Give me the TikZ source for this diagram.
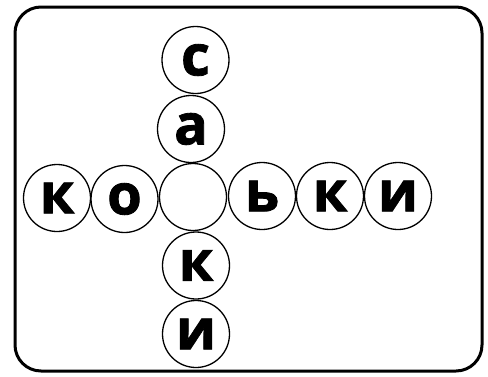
\documentclass[tikz,border=0pt]{standalone}
\usepackage{fontspec}
\setmainfont{Open Sans}[BoldFeatures={FakeBold=1.5}]
\begin{document}
\begin{tikzpicture}[x=1pt,y=-1pt,
  cell/.style={circle,draw,line width=1.3pt,minimum size=67pt,inner sep=0pt,font=\fontsize{56}{56}\selectfont\bfseries}]
\useasboundingbox (0,0) rectangle (488,376);
\draw[line width=3pt,rounded corners=26pt] (15,7) rectangle (482,371);
\node[cell] (c1) at (195.5,60) {с};
\node[cell] (a1) at (191,129) {а};
\node[cell] (m) at (193,197) {};
\node[cell] (k2) at (196,265.5) {к};
\node[cell] (i2) at (196,334) {и};
\node[cell] (k1) at (57,198) {к};
\node[cell] (o1) at (124.5,199) {о};
\node[cell] (b1) at (262,196) {ь};
\node[cell] (k3) at (330,196) {к};
\node[cell] (i3) at (398,196) {и};
\end{tikzpicture}
\end{document}
